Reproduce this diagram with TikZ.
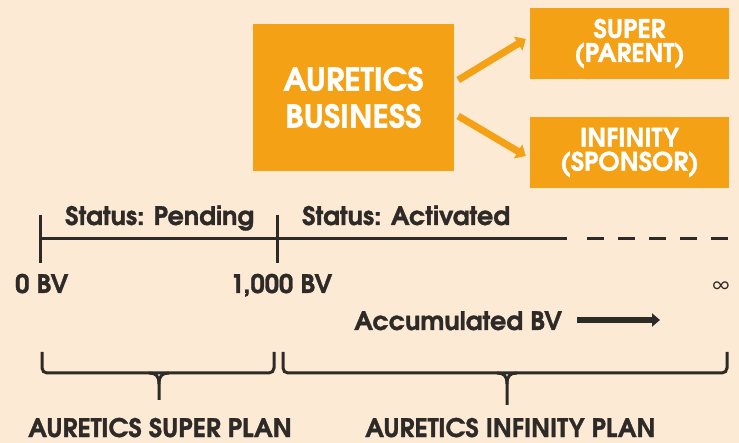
\documentclass[tikz,border=0pt]{standalone}
\usepackage{fontspec}
\setmainfont{TeX Gyre Adventor}[BoldFeatures={FakeBold=1.2}]
\usetikzlibrary{arrows.meta}
\definecolor{bg}{HTML}{FDEAD5}
\definecolor{org}{HTML}{F4A116}
\definecolor{ink}{HTML}{2D2A27}
\tikzset{
  obox/.style={fill=org, draw=none, text=white, align=center, inner sep=0pt},
  oarrow/.style={draw=org, line width=7pt, -{Triangle[length=9pt,width=16pt]}},
  lbl/.style={text=ink, anchor=base west, inner sep=0pt, font=\bfseries\fontsize{25.5}{30}\selectfont},
  tl/.style={draw=ink, line width=3pt},
  brc/.style={draw=ink, line width=3pt, rounded corners=5pt},
  tip/.style={draw=ink, line width=3pt},
}
\begin{document}
\begin{tikzpicture}[x=1pt,y=-1pt]
\fill[bg] (0,0) rectangle (739,443);
\useasboundingbox (0,0) rectangle (739,443);
% boxes
\node[obox, minimum width=201pt, minimum height=147pt, font=\bfseries\fontsize{31.5}{37}\selectfont] (main) at (353.5,97.5) {AURETICS\\BUSINESS};
\node[obox, minimum width=199pt, minimum height=71pt, font=\bfseries\fontsize{25.5}{24}\selectfont] (sup) at (629.5,43.5) {SUPER\\(PARENT)};
\node[obox, minimum width=199pt, minimum height=71pt, font=\bfseries\fontsize{25.5}{24}\selectfont] (inf) at (629.5,152.5) {INFINITY\\(SPONSOR)};
\draw[oarrow] ([xshift=4pt,yshift=17.5pt]main.east) -- ([xshift=-4pt,yshift=4.5pt]sup.west);
\draw[oarrow] ([xshift=4pt,yshift=-18.5pt]main.east) -- ([xshift=-4pt,yshift=-3.5pt]inf.west);
% timeline
\draw[tl] (40,239) -- (567,239);
\draw[tl, dash pattern=on 17pt off 14pt] (587,239) -- (729,239);
\draw[tl] (40,215) -- (40,263);
\draw[tl] (277,215) -- (277,263);
\node[lbl] (sp) at (65,225) {Status: Pending};
\node[lbl] (sa) at (302,225) {Status: Activated};
\node[lbl] (z) at (15,293) {0 BV};
\node[lbl] (k) at (230,293) {1,000 BV};
\node[text=ink, inner sep=0pt, font=\fontsize{19}{22}\selectfont] (inft) at (721,286) {∞};
\node[lbl] (acc) at (354,330) {Accumulated BV};
\coordinate (a1) at (577,320);
\coordinate (a2) at (660,320);
\draw[draw=ink, line width=6pt, -{Triangle[length=8pt,width=13pt]}] (a1) -- (a2);
% braces
\draw[brc] (42,352) -- (42,373) -- (274,373) -- (274,352);
\draw[tip] (149,373) .. controls (156,373) and (159,376) .. (159,384) -- (159,400);
\draw[tip] (169,373) .. controls (162,373) and (159,376) .. (159,384);
\draw[brc] (283,352) -- (283,373) -- (727,373) -- (727,352);
\draw[tip] (497,373) .. controls (504,373) and (507,376) .. (507,384) -- (507,405);
\draw[tip] (517,373) .. controls (510,373) and (507,376) .. (507,384);
\node[lbl] (p1) at (28,437) {AURETICS SUPER PLAN};
\node[lbl] (p2) at (365,437) {AURETICS INFINITY PLAN};
\end{tikzpicture}
\end{document}
